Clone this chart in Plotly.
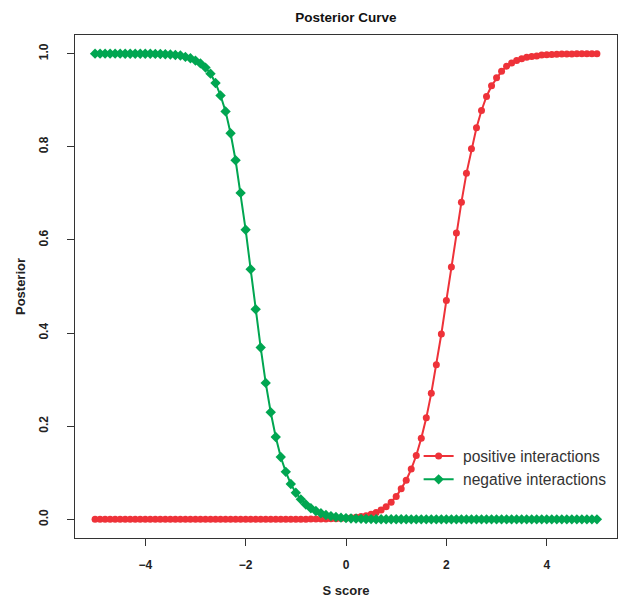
import plotly.graph_objects as go

s_score = [-5.0, -4.9, -4.8, -4.7, -4.6, -4.5, -4.4, -4.3, -4.2, -4.1,
           -4.0, -3.9, -3.8, -3.7, -3.6, -3.5, -3.4, -3.3, -3.2, -3.1,
           -3.0, -2.9, -2.8, -2.7, -2.6, -2.5, -2.4, -2.3, -2.2, -2.1,
           -2.0, -1.9, -1.8, -1.7, -1.6, -1.5, -1.4, -1.3, -1.2, -1.1,
           -1.0, -0.9, -0.8, -0.7, -0.6, -0.5, -0.4, -0.3, -0.2, -0.1,
           0.0, 0.1, 0.2, 0.3, 0.4, 0.5, 0.6, 0.7, 0.8, 0.9,
           1.0, 1.1, 1.2, 1.3, 1.4, 1.5, 1.6, 1.7, 1.8, 1.9,
           2.0, 2.1, 2.2, 2.3, 2.4, 2.5, 2.6, 2.7, 2.8, 2.9,
           3.0, 3.1, 3.2, 3.3, 3.4, 3.5, 3.6, 3.7, 3.8, 3.9,
           4.0, 4.1, 4.2, 4.3, 4.4, 4.5, 4.6, 4.7, 4.8, 4.9, 5.0]

positive = [0.0, 0.0, 0.0, 0.0, 0.0, 0.0, 0.0, 0.0, 0.0, 0.0,
            0.0, 0.0, 0.0, 0.0, 0.0, 0.0, 0.0, 0.0, 0.0, 0.0,
            0.0, 0.0, 0.0, 0.0, 0.0, 0.0, 0.0, 0.0, 0.0, 0.0,
            0.0, 0.0001, 0.0001, 0.0001, 0.0001, 0.0001, 0.0002, 0.0002, 0.0002, 0.0003,
            0.0003, 0.0004, 0.0005, 0.0006, 0.0007, 0.0008, 0.001, 0.0012, 0.0015, 0.0019,
            0.0025, 0.0033, 0.0045, 0.006, 0.008, 0.011, 0.015, 0.020, 0.027, 0.037,
            0.049, 0.066, 0.084, 0.108, 0.137, 0.174, 0.218, 0.271, 0.332, 0.398,
            0.470, 0.542, 0.615, 0.681, 0.743, 0.796, 0.841, 0.878, 0.908, 0.931,
            0.948, 0.962, 0.973, 0.980, 0.985, 0.989, 0.992, 0.994, 0.995, 0.997,
            0.9975, 0.998, 0.9986, 0.999, 0.9992, 0.9994, 0.9996, 0.9997, 0.9998, 0.9998, 0.9999]

negative = [1.0, 1.0, 1.0, 1.0, 1.0, 1.0, 0.9999, 0.9999, 0.9998, 0.9998,
            0.9997, 0.9996, 0.9994, 0.9991, 0.9987, 0.9981, 0.9972, 0.996, 0.993, 0.990,
            0.985, 0.979, 0.970, 0.957, 0.937, 0.910, 0.876, 0.829, 0.771, 0.701,
            0.622, 0.537, 0.451, 0.369, 0.293, 0.230, 0.177, 0.134, 0.102, 0.076,
            0.057, 0.043, 0.032, 0.024, 0.018, 0.013, 0.0095, 0.007, 0.005, 0.0037,
            0.0027, 0.002, 0.0015, 0.0011, 0.0008, 0.0006, 0.0004, 0.0003, 0.0002, 0.0002,
            0.0001, 0.0001, 0.0001, 0.0, 0.0, 0.0, 0.0, 0.0, 0.0, 0.0,
            0.0, 0.0, 0.0, 0.0, 0.0, 0.0, 0.0, 0.0, 0.0, 0.0,
            0.0, 0.0, 0.0, 0.0, 0.0, 0.0, 0.0, 0.0, 0.0, 0.0,
            0.0, 0.0, 0.0, 0.0, 0.0, 0.0, 0.0, 0.0, 0.0, 0.0, 0.0]

x_ticks = [-4, -2, 0, 2, 4]
y_ticks = [0.0, 0.2, 0.4, 0.6, 0.8, 1.0]
y_ticklabels = ["0.0", "0.2", "0.4", "0.6", "0.8", "1.0"]

RED = "#EE3239"
GREEN = "#00A651"
FONT = "Liberation Sans, Arial, Helvetica, sans-serif"

# The page body has an 8px default margin, so the figure is sized to fit
# inside the 627x599 window.
FIG_W, FIG_H = 619, 591

fig = go.Figure()
fig.add_trace(go.Scatter(
    x=s_score, y=positive, mode="lines+markers", name="\u00a0positive interactions",
    line=dict(color=RED, width=2),
    marker=dict(symbol="circle", size=7, color=RED),
))
fig.add_trace(go.Scatter(
    x=s_score, y=negative, mode="lines+markers", name="\u00a0negative interactions",
    line=dict(color=GREEN, width=2),
    marker=dict(symbol="diamond", size=8, color=GREEN),
))

fig.update_layout(
    width=FIG_W, height=FIG_H,
    margin=dict(l=67, r=10, t=27, b=61),
    paper_bgcolor="white", plot_bgcolor="white",
    font=dict(family=FONT, color="#222"),
    title=dict(text="<b>Posterior Curve</b>", x=0.5, xref="paper", xanchor="center",
               y=1 - 9 / FIG_H, yref="container", yanchor="middle",
               font=dict(size=13.5, color="#111")),
    showlegend=True,
    legend=dict(x=0.634, y=0.196, xanchor="left", yanchor="top",
                bgcolor="rgba(0,0,0,0)", borderwidth=0,
                font=dict(size=15.6, color="#333"), tracegroupgap=0),
    xaxis=dict(
        range=[-5.4, 5.4], tickvals=x_ticks, showgrid=False, zeroline=False,
        showline=True, linecolor="#333", linewidth=1.3, mirror=True,
        ticks="outside", ticklen=7, tickcolor="#333", tickwidth=1.3,
        tickfont=dict(size=12, weight="bold", color="#222"),
        ticklabelstandoff=8, automargin=False,
        title=dict(text="<b>S score</b>", font=dict(size=13, color="#222"), standoff=15),
    ),
    yaxis=dict(
        range=[-0.04, 1.04], tickvals=y_ticks, ticktext=y_ticklabels, showgrid=False,
        zeroline=False, showline=True, linecolor="#333", linewidth=1.3, mirror=True,
        ticks="outside", ticklen=7, tickcolor="#333", tickwidth=1.3, tickangle=-90,
        tickfont=dict(size=12, weight="bold", color="#222"),
        ticklabelstandoff=14, automargin=False,
        title=dict(text="<b>Posterior</b>", font=dict(size=13, color="#222"), standoff=8),
    ),
)

fig.write_html("out.html")
